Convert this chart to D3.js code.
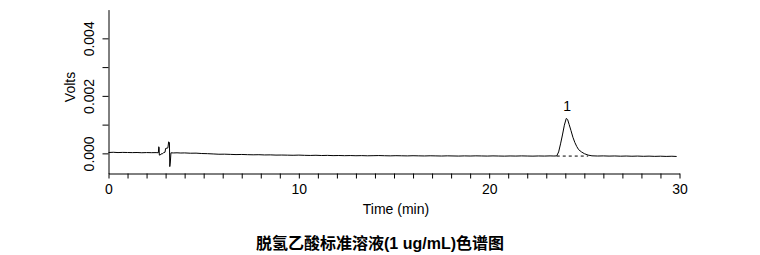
<!DOCTYPE html>
<html>
<head>
<meta charset="utf-8">
<script src="https://cdn.jsdelivr.net/npm/d3@7"></script>
<style>
  html, body { margin: 0; padding: 0; background: #fff; }
  svg { display: block; }
  text { font-family: "Liberation Sans", Arial, "Noto Sans CJK SC", sans-serif; fill: #000; }
</style>
</head>
<body>
<svg id="chart" width="760" height="255"></svg>
<script>
// ---- data ----
const timeMin = [
  0.0, 0.25, 0.5, 0.75, 1.0, 1.25, 1.5, 1.75, 2.0, 2.25, 2.5, 2.62, 2.64, 2.66, 2.67, 2.72, 2.76, 2.85, 2.9, 2.97,
  3.0, 3.12, 3.16, 3.2, 3.22, 3.25, 3.28, 3.4, 3.6, 3.8, 4.0, 4.3, 4.6, 4.9, 5.2, 5.5, 5.8, 6.1, 6.4, 6.7,
  7.0, 7.3, 7.6, 7.9, 8.2, 8.5, 8.8, 9.1, 9.4, 9.7, 10.0, 10.3, 10.6, 10.9, 11.2, 11.5, 11.8, 12.1, 12.4, 12.7,
  13.0, 13.3, 13.6, 13.9, 14.2, 14.5, 14.8, 15.1, 15.4, 15.7, 16.0, 16.3, 16.6, 16.9, 17.2, 17.5, 17.8, 18.1, 18.4, 18.7,
  19.0, 19.3, 19.6, 19.9, 20.2, 20.5, 20.8, 21.1, 21.4, 21.7, 22.0, 22.3, 22.6, 22.9, 23.2, 23.4, 23.55,
  23.65, 23.75, 23.85, 23.95, 24.05, 24.12, 24.2, 24.3, 24.4, 24.5, 24.6, 24.7, 24.85, 25.0, 25.2, 25.4,
  25.7, 26.0, 26.3, 26.6, 26.9, 27.2, 27.5, 27.8, 28.1, 28.4, 28.7, 29.0, 29.3, 29.6, 29.85
];
const volts = [
  0.000030, 0.000038, 0.000028, 0.000034, 0.000030, 0.000026, 0.000030, 0.000022, 0.000028, 0.000024, 0.000026, 0.000022, 0.000230, 0.000200, -0.000060, -0.000055, -0.000020, -0.000010, 0.000030, 0.000040,
  0.000170, 0.000190, 0.000400, 0.000380, -0.000460, -0.000300, 0.000020, 0.000015, 0.000020, 0.000012, 0.000016, 0.000005, 0.000008, -0.000005, -0.000010, -0.000020, -0.000030, -0.000028, -0.000035, -0.000042,
  -0.000038, -0.000045, -0.000050, -0.000046, -0.000055, -0.000052, -0.000060, -0.000058, -0.000062, -0.000066, -0.000060, -0.000068, -0.000072, -0.000066, -0.000075, -0.000070, -0.000078, -0.000074, -0.000080, -0.000076,
  -0.000082, -0.000078, -0.000084, -0.000080, -0.000076, -0.000082, -0.000086, -0.000080, -0.000084, -0.000088, -0.000082, -0.000086, -0.000090, -0.000084, -0.000088, -0.000092, -0.000086, -0.000090, -0.000094, -0.000088,
  -0.000092, -0.000086, -0.000090, -0.000094, -0.000088, -0.000092, -0.000096, -0.000090, -0.000094, -0.000088, -0.000092, -0.000096, -0.000090, -0.000094, -0.000088, -0.000092, -0.000088,
  0.000050, 0.000330, 0.000640, 0.000980, 0.001215, 0.001180, 0.001010, 0.000790, 0.000560, 0.000380, 0.000240, 0.000130, 0.000050, -0.000010, -0.000060, -0.000085,
  -0.000092, -0.000088, -0.000095, -0.000090, -0.000098, -0.000092, -0.000100, -0.000094, -0.000102, -0.000096, -0.000104, -0.000098, -0.000106, -0.000100, -0.000108
];
const peakLabels = ["1"];
const peakTimes = [24.05];
const peakVolts = [0.001215];
const peakBaseTimes = [23.55, 25.2];
const peakBaseVolts = [-0.000094, -0.000094];
const xTicks = [0, 10, 20, 30];
const yTicks = [0.000, 0.002, 0.004];
const xTitle = "Time (min)";
const yTitle = "Volts";
const chartTitle = "脱氢乙酸标准溶液(1 ug/mL)色谱图";

// ---- drawing ----
const svg = d3.select("#chart");
const x = d3.scaleLinear().domain([0, 30]).range([108.5, 679.5]);
const y = d3.scaleLinear().domain([-0.0007, 0.005]).range([173.5, 9.6]);

// x axis
const xAxis = d3.axisBottom(x)
  .tickValues(d3.range(0, 31, 1))
  .tickSize(5).tickSizeOuter(0).tickPadding(6)
  .tickFormat(d => xTicks.includes(d) ? d3.format("d")(d) : "");
const gx = svg.append("g").attr("transform", `translate(0,${y.range()[0]})`).call(xAxis);
gx.select(".domain").attr("stroke", "#000");
gx.selectAll(".tick line").attr("stroke", "#000");
gx.selectAll(".tick text").attr("font-size", 14).attr("font-family", null).attr("fill", "#000");

// y axis
const yAxis = d3.axisLeft(y)
  .tickValues([0, 0.001, 0.002, 0.003, 0.004])
  .tickSize(6).tickSizeOuter(0)
  .tickFormat(d => yTicks.some(t => Math.abs(t - d) < 1e-9) ? d3.format(".3f")(d) : "");
const gy = svg.append("g").attr("transform", `translate(${x.range()[0]},0)`).call(yAxis);
gy.select(".domain").attr("stroke", "#000");
gy.selectAll(".tick line").attr("stroke", "#000");
gy.selectAll(".tick text")
  .attr("font-size", 14).attr("font-family", null).attr("fill", "#000")
  .attr("transform", "rotate(-90)")
  .attr("text-anchor", "middle")
  .attr("x", 0).attr("y", -15).attr("dy", 0);
svg.selectAll(".domain").attr("stroke-width", 1);

// trace
const pts = timeMin.map((t, i) => [t, volts[i]]);
svg.append("path")
  .datum(pts)
  .attr("fill", "none")
  .attr("stroke", "#000")
  .attr("stroke-width", 1)
  .attr("d", d3.line().x(d => x(d[0])).y(d => y(d[1])));

// integration baseline (dashed)
svg.append("path")
  .datum(peakBaseTimes.map((t, i) => [t, peakBaseVolts[i]]))
  .attr("fill", "none")
  .attr("stroke", "#000")
  .attr("stroke-width", 1)
  .attr("stroke-dasharray", "3,3")
  .attr("d", d3.line().x(d => x(d[0])).y(d => y(d[1])));

// peak label
svg.selectAll(".plabel").data(peakLabels).enter().append("text")
  .attr("class", "plabel")
  .attr("x", (d, i) => x(peakTimes[i]) + 1)
  .attr("y", (d, i) => y(peakVolts[i]) - 7)
  .attr("text-anchor", "middle")
  .attr("font-size", 14)
  .text(d => d);

// axis titles
svg.append("text")
  .attr("x", (x.range()[0] + x.range()[1]) / 2 + 2)
  .attr("y", 214)
  .attr("text-anchor", "middle")
  .attr("font-size", 14)
  .text(xTitle);

svg.append("text")
  .attr("transform", "translate(74.5,87) rotate(-90)")
  .attr("text-anchor", "middle")
  .attr("font-size", 14)
  .text(yTitle);

// chart title
svg.append("text")
  .attr("x", 380)
  .attr("y", 248.5)
  .attr("text-anchor", "middle")
  .attr("font-size", 16)
  .attr("font-weight", "bold")
  .attr("font-family", "\"Liberation Sans\", Arial, \"Noto Sans CJK SC\", sans-serif")
  .text(chartTitle);
</script>
</body>
</html>
